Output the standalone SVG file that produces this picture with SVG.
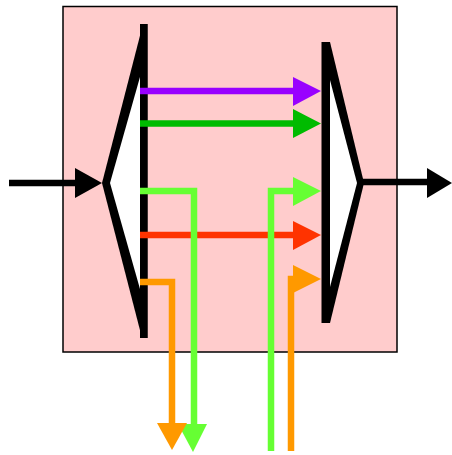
<svg xmlns="http://www.w3.org/2000/svg" width="452" height="455" viewBox="0 0 452 455">
<style>
.ln{fill:none;stroke-width:6.5;stroke-linejoin:miter;stroke-linecap:butt}
</style>
<rect x="0" y="0" width="452" height="455" fill="#ffffff"/>
<g id="box"><rect x="63" y="6.5" width="334" height="345.5" fill="#ffcccc" stroke="#000" stroke-width="1.5"/></g>
<g id="demux">
<polygon points="143,24 147.5,24 147.5,338 142,338 102,183" fill="#000"/>
<rect x="140" y="24" width="7.5" height="314" fill="#000"/>
<polygon points="140,77 110,183 140,289" fill="#fff"/>
</g>
<g id="mux">
<polygon points="321.5,42 330,42 364,183 330,323 321.5,323" fill="#000"/>
<polygon points="330,80 357,183 330,287" fill="#fff"/>
</g>
<g id="connectors">
<line class="ln" x1="9" y1="183" x2="80" y2="183" stroke="#000"/>
<polygon points="75,168 102,183 75,198" fill="#000"/>
<line class="ln" x1="362" y1="182" x2="430" y2="182" stroke="#000"/>
<polygon points="427,168 452,183 427,198" fill="#000"/>
<line class="ln" x1="140" y1="91" x2="296" y2="91" stroke="#9900ff"/>
<polygon points="293,77 321,91 293,106" fill="#9900ff"/>
<line class="ln" x1="140" y1="123.5" x2="296" y2="123.5" stroke="#00bb00"/>
<polygon points="293,109 321,123.5 293,138" fill="#00bb00"/>
<line class="ln" x1="140" y1="235" x2="296" y2="235" stroke="#ff3300"/>
<polygon points="293,221 321,235 293,250" fill="#ff3300"/>
<path class="ln" d="M140,191 H194 V428" stroke="#66ff33"/>
<polygon points="178,424 207,424 193,452" fill="#66ff33"/>
<path class="ln" d="M140,282 H172 V426" stroke="#ff9900"/>
<polygon points="157,423 187,423 172,450" fill="#ff9900"/>
<path class="ln" d="M271,451 V191 H296" stroke="#66ff33"/>
<polygon points="293,177 321,191 293,206" fill="#66ff33"/>
<path class="ln" d="M291,451 V279 H296" stroke="#ff9900"/>
<polygon points="293,265 321,279 293,293" fill="#ff9900"/>
</g>
</svg>
